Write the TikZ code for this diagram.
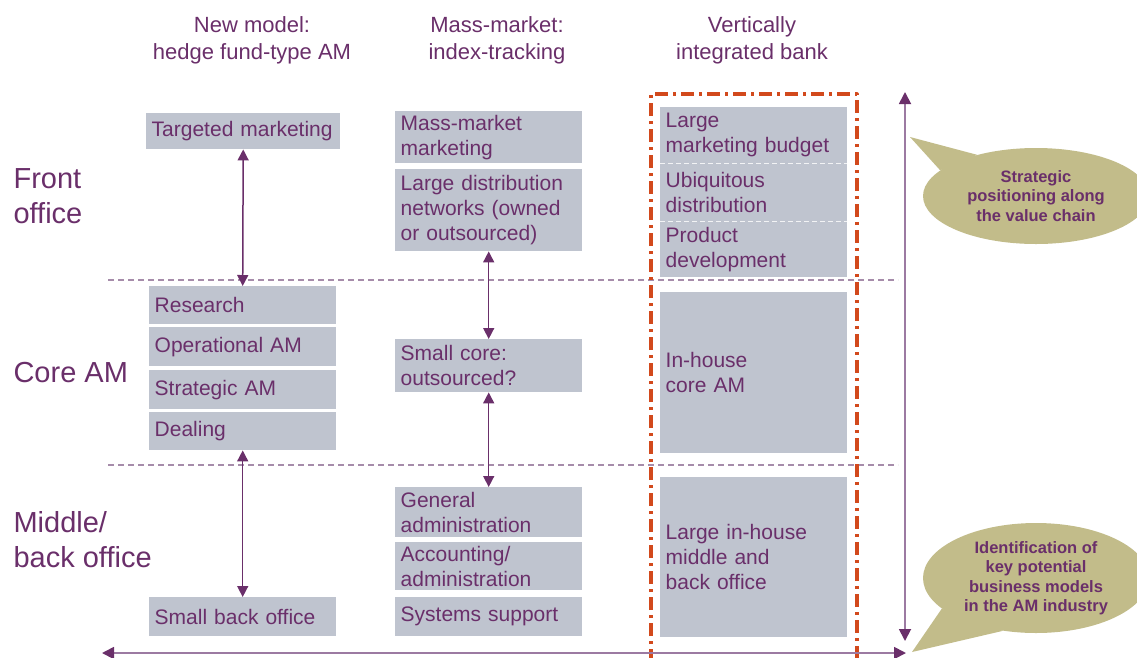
\documentclass[tikz,border=0pt]{standalone}
\usepackage{fontspec}
\setmainfont{Liberation Sans}
\usetikzlibrary{arrows.meta,shapes.geometric}

\definecolor{ink}{HTML}{6A2F6A}
\definecolor{boxgray}{HTML}{BFC4CF}
\definecolor{divline}{HTML}{A68CAA}
\definecolor{framered}{HTML}{D2491C}
\definecolor{axisline}{HTML}{9C7AA2}
\definecolor{bubblefill}{HTML}{C2BC8A}

\begin{document}
\begin{tikzpicture}[x=1pt,y=-1pt,line join=round,
  cell/.style={rectangle,fill=boxgray,text=ink,anchor=north west,align=left,
    inner xsep=5.5pt,inner ysep=0pt,text width=176pt,
    font=\fontsize{21}{25}\selectfont},
  head/.style={text=ink,align=center,font=\fontsize{22}{27}\selectfont},
  rowlab/.style={text=ink,align=left,anchor=west,font=\fontsize{29}{35}\selectfont},
  bubble/.style={ellipse,fill=bubblefill,text=ink,align=center,inner sep=0pt,
    font=\bfseries\fontsize{16.5}{19.5}\selectfont},
  link/.style={draw=ink,line width=1.5pt,
    {Triangle[length=11pt,width=11pt]}-{Triangle[length=11pt,width=11pt]}},
  axis/.style={draw=axisline,line width=1.8pt,
    {Triangle[length=12pt,width=12pt,color=ink]}-{Triangle[length=12pt,width=12pt,color=ink]}},
  divider/.style={draw=divline,line width=1.2pt,dash pattern=on 6pt off 4pt},
  frame/.style={draw=framered,line width=3.2pt,dash pattern=on 13pt off 5pt on 3pt off 5pt},
  sep/.style={draw=white!80!boxgray,line width=1pt,dash pattern=on 5pt off 3pt}]

\clip (0,0) rectangle (1137,657);

% column headers
\node[head] (h1) at (252,40) {New model:\\hedge fund-type AM};
\node[head] (h2) at (497,40) {Mass-market:\\index-tracking};
\node[head] (h3) at (752,40) {Vertically\\integrated bank};

% row labels
\node[rowlab] (rfront) at (10,196) {Front\\office};
\node[rowlab] (rcore)  at (10,373) {Core AM};
\node[rowlab] (rback)  at (10,540) {Middle/\\back office};

% dividers between rows
\coordinate (d1l) at (108,280); \coordinate (d1r) at (898,280);
\coordinate (d2l) at (108,465); \coordinate (d2r) at (898,465);
\draw[divider] (d1l) -- (d1r);
\draw[divider] (d2l) -- (d2r);

% hedge fund column
\node[cell,text width=183pt,minimum height=36pt] (tgt) at (146,113) {Targeted marketing};
\node[cell,minimum height=38pt] (res)   at (149,286) {Research};
\node[cell,minimum height=39pt] (opam)  at (149,327) {Operational AM};
\node[cell,minimum height=39pt] (stram) at (149,370) {Strategic AM};
\node[cell,minimum height=38pt] (deal)  at (149,412) {Dealing};
\node[cell,minimum height=39pt] (sbo)   at (149,597) {Small back office};

% index-tracking column
\node[cell,minimum height=52pt] (mmm)   at (395,111) {Mass-market\\marketing};
\node[cell,minimum height=82pt] (ldn)   at (395,169) {Large distribution\\networks (owned\\or outsourced)};
\node[cell,minimum height=53pt] (score) at (395,339) {Small core:\\outsourced?};
\node[cell,minimum height=50pt] (gadm)  at (395,487) {General\\administration};
\node[cell,minimum height=48pt] (acc)   at (395,542) {Accounting/\\administration};
\node[cell,minimum height=39pt] (sys)   at (395,597) {Systems support};

% integrated bank column
\node[cell,minimum height=56pt] (lmb)  at (660,107) {Large\\marketing budget};
\node[cell,minimum height=58pt] (ubq)  at (660,163) {Ubiquitous\\distribution};
\node[cell,minimum height=56pt] (prod) at (660,221) {Product\\development};
\draw[sep] (lmb.south west) -- (lmb.south east);
\draw[sep] (ubq.south west) -- (ubq.south east);
\node[cell,minimum height=161pt] (core) at (660,292) {In-house\\core AM};
\node[cell,minimum height=160pt] (mbo)  at (660,477) {Large in-house\\middle and\\back office};

% red frame round the bank column
\coordinate (fbl) at (651,662); \coordinate (ftl) at (651,94);
\coordinate (ftr) at (857,94);  \coordinate (fbr) at (857,662);
\draw[frame] (fbl) -- (ftl) -- (ftr) -- (fbr);

% links within columns
\draw[link] (tgt.south) -- (res.north);
\draw[link] (deal.south) -- (sbo.north);
\draw[link] (ldn.south) -- (score.north);
\draw[link] (score.south) -- (gadm.north);

% value chain axes
\coordinate (vtop) at (905,92);  \coordinate (vbot) at (905,641);
\coordinate (hl) at (102,653);   \coordinate (hr) at (906,653);
\draw[axis] (vbot) -- (vtop);
\draw[axis] (hl) -- (hr);

% callouts
\node[bubble,minimum width=226pt,minimum height=96pt] (b1) at (1036,196)
  {Strategic\\positioning along\\the value chain};
\coordinate (t1) at (910,137);
\fill[bubblefill] (t1) -- (b1.145) -- (b1.165) -- cycle;
\node[bubble,minimum width=226pt,minimum height=110pt] (b2) at (1036,578)
  {Identification of\\key potential\\business models\\in the AM industry};
\coordinate (t2) at (912,652);
\fill[bubblefill] (t2) -- (b2.198) -- (b2.238) -- cycle;

\end{tikzpicture}
\end{document}
